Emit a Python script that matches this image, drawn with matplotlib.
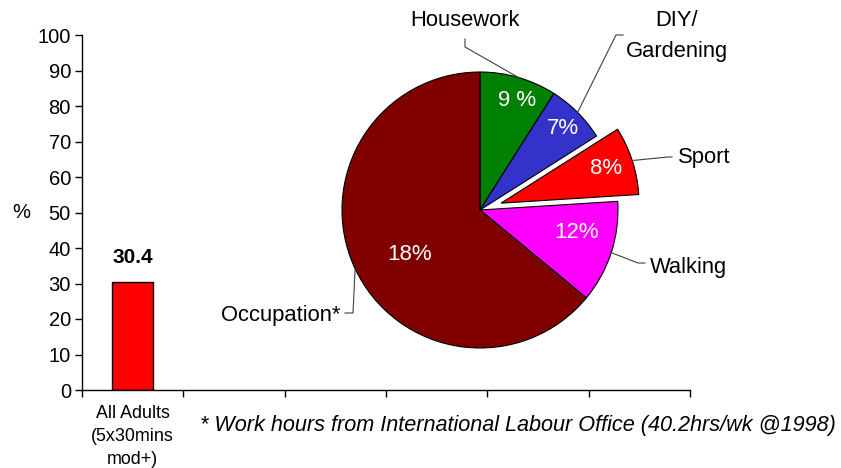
import matplotlib
matplotlib.use("Agg")
import matplotlib.pyplot as plt
import numpy as np

plt.rcParams['font.family'] = ['Liberation Sans', 'DejaVu Sans']

# ---- data ----
bar_categories = ["All Adults\n(5x30mins\nmod+)", "", "", "", "", ""]
bar_values = [30.4]
bar_value_labels = ["30.4"]
y_ticks = [0, 10, 20, 30, 40, 50, 60, 70, 80, 90, 100]

pie_names = ["Housework", "DIY/\nGardening", "Sport", "Walking", "Occupation*"]
pie_values = [9, 7, 8, 12, 64]
pie_pct_labels = ["9 %", "7%", "8%", "12%", "18%"]
pie_colors = ["#008000", "#3333CC", "#FF0000", "#FF00FF", "#800000"]
pie_explode = [0, 0, 0.16, 0, 0]
footnote = "* Work hours from International Labour Office (40.2hrs/wk @1998)"

W, H = 841, 468
fig = plt.figure(figsize=(W / 100, H / 100), dpi=100)

# ---- bar axes ----
ax = fig.add_axes([82 / W, 1 - 390 / H, (690 - 82) / W, (390 - 35) / H])
x = np.arange(len(bar_categories))
ax.bar(x[:len(bar_values)], bar_values, width=0.4, color="#FF0000",
       edgecolor="black", linewidth=1)
for xi, v, lab in zip(x, bar_values, bar_value_labels):
    ax.text(xi, v + 6.8, lab, ha="center", va="center", fontsize=15,
            fontweight="bold")
ax.set_xlim(-0.5, len(bar_categories) - 0.5)
ax.set_ylim(0, 100)
ax.set_yticks(y_ticks)
ax.tick_params(axis="y", labelsize=14.5, length=5, width=1, direction="out", pad=3)
ax.set_xticks(x)
ax.set_xticklabels(bar_categories, fontsize=12.9, linespacing=1.47)
ax.tick_params(axis="x", which="major", length=0, pad=10.5)
ax.set_xticks(np.arange(-0.5, len(bar_categories)), minor=True)
ax.tick_params(axis="x", which="minor", length=5, width=1, direction="out")
for s in ["top", "right"]:
    ax.spines[s].set_visible(False)
for s in ["left", "bottom"]:
    ax.spines[s].set_linewidth(1)
ax.set_ylabel("%", fontsize=14.5, rotation=0, labelpad=11.5, va="center")

# ---- pie axes (1 unit = 138 px, centre at (480,210) px) ----
R = 138.0
cx, cy = 480.0, 210.0
pax = fig.add_axes([0, 0, 1, 1])
pax.patch.set_visible(False)
wedges, _ = pax.pie(pie_values, colors=pie_colors, explode=pie_explode,
                    startangle=90, counterclock=False, radius=1,
                    wedgeprops=dict(edgecolor="black", linewidth=0.8))
pax.set_aspect("auto")
pax.set_xlim((0 - cx) / R, (W - cx) / R)
pax.set_ylim((cy - H) / R, cy / R)
pax.axis("off")

def P(px, py):
    return ((px - cx) / R, (cy - py) / R)

# percentage labels
pct_pos = [P(517, 101), P(563, 128), P(606, 168), P(577, 232), P(410, 255)]
for (tx, ty), lab in zip(pct_pos, pie_pct_labels):
    pax.text(tx, ty, lab, color="white", fontsize=16, ha="center", va="center")

# leader lines + names
def edge_point(w):
    ang = np.deg2rad((w.theta1 + w.theta2) / 2)
    c = w.center
    return (c[0] + w.r * np.cos(ang), c[1] + w.r * np.sin(ang))

leaders = [
    [P(465, 47), P(465, 39)],
    [P(616, 35), P(623, 35)],
    [P(668, 157), P(672, 157)],
    [P(638, 263), P(645, 263)],
    [P(353, 313), P(345, 313)],
]
name_pos = [P(465, 21), P(677, 36), P(678, 158), P(650, 267), P(340, 315)]
name_ha = ["center", "center", "left", "left", "right"]
for w, pts, (tx, ty), ha, name in zip(wedges, leaders, name_pos, name_ha, pie_names):
    ex, ey = edge_point(w)
    xs = [ex] + [p[0] for p in pts]
    ys = [ey] + [p[1] for p in pts]
    pax.plot(xs, ys, color="#404040", linewidth=0.8)
    pax.text(tx, ty, name, fontsize=15.8, ha=ha, va="center", linespacing=1.6)

fig.text(200 / W, 1 - 425 / H, footnote, fontsize=15.6, style="italic",
         ha="left", va="center")

fig.savefig("out.png", dpi=100)
